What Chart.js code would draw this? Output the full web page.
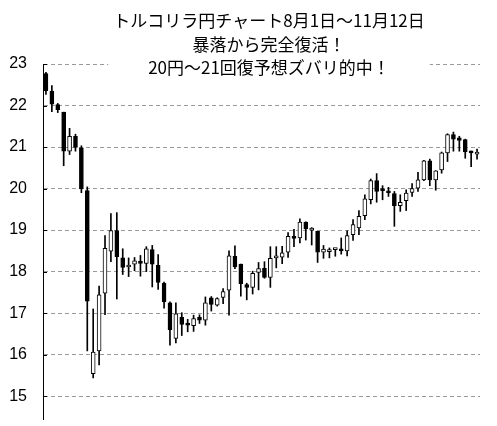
<!DOCTYPE html>
<html lang="ja">
<head>
<meta charset="utf-8">
<title>トルコリラ円チャート</title>
<script src="https://cdn.jsdelivr.net/npm/chart.js@4.4.1/dist/chart.umd.min.js"></script>
<style>
  html, body { margin: 0; padding: 0; background: #fff; }
</style>
</head>
<body>
<canvas id="wykres" width="497" height="426"></canvas>
<script>
// Dni notowań (8/1 - 11/12)
const dates = [
  "8/1", "8/2", "8/3", "8/6", "8/7", "8/8", "8/9", "8/10", "8/13", "8/14",
  "8/15", "8/16", "8/17", "8/20", "8/21", "8/22", "8/23", "8/24", "8/27", "8/28",
  "8/29", "8/30", "8/31", "9/3", "9/4", "9/5", "9/6", "9/7", "9/10", "9/11",
  "9/12", "9/13", "9/14", "9/17", "9/18", "9/19", "9/20", "9/21", "9/24", "9/25",
  "9/26", "9/27", "9/28", "10/1", "10/2", "10/3", "10/4", "10/5", "10/8", "10/9",
  "10/10", "10/11", "10/12", "10/15", "10/16", "10/17", "10/18", "10/19", "10/22", "10/23",
  "10/24", "10/25", "10/26", "10/29", "10/30", "10/31", "11/1", "11/2", "11/5", "11/6",
  "11/7", "11/8", "11/9", "11/12"
];

const opens = [
  22.77, 22.35, 22.02, 21.84, 20.90, 21.26, 20.98, 19.95, 15.54, 16.09,
  17.48, 18.49, 18.99, 18.33, 18.11, 18.18, 18.24, 18.20, 18.53, 18.15,
  17.72, 17.25, 16.39, 16.90, 16.73, 16.70, 16.90, 16.83, 17.37, 17.19,
  17.38, 17.55, 18.37, 18.18, 17.69, 17.62, 17.98, 18.08, 17.86, 18.33,
  18.35, 18.47, 18.85, 18.81, 19.19, 19.00, 18.97, 18.47, 18.48, 18.53,
  18.51, 18.50, 18.89, 19.05, 19.35, 19.73, 20.19, 19.97, 19.92, 19.88,
  19.59, 19.71, 19.91, 20.01, 20.21, 20.67, 20.21, 20.45, 20.86, 21.30,
  21.22, 21.18, 20.87, 20.83
];

const highs = [
  22.80, 22.48, 22.05, 21.84, 21.45, 21.31, 21.03, 20.04, 17.10, 17.65,
  18.87, 19.40, 19.42, 18.55, 18.33, 18.34, 18.39, 18.60, 18.63, 18.41,
  17.75, 17.27, 17.25, 17.01, 16.85, 16.95, 16.96, 17.39, 17.40, 17.37,
  17.59, 18.50, 18.62, 18.18, 17.72, 18.01, 18.22, 18.24, 18.60, 18.60,
  18.61, 18.94, 19.02, 19.27, 19.20, 19.06, 18.97, 18.63, 18.57, 18.55,
  18.81, 18.98, 19.25, 19.47, 19.85, 20.23, 20.36, 20.07, 20.03, 19.93,
  19.85, 19.97, 20.12, 20.39, 20.68, 20.71, 20.43, 20.88, 21.32, 21.36,
  21.26, 21.19, 20.90, 20.95
];

const lows = [
  22.27, 21.85, 21.83, 20.55, 20.82, 20.90, 19.90, 16.09, 15.44, 15.75,
  16.96, 18.24, 17.34, 17.93, 17.88, 18.02, 17.89, 18.00, 17.63, 17.57,
  17.12, 16.23, 16.28, 16.46, 16.55, 16.56, 16.75, 16.71, 17.05, 17.17,
  17.23, 16.95, 18.07, 17.41, 17.32, 17.46, 17.56, 17.84, 17.62, 18.09,
  18.19, 18.34, 18.60, 18.69, 18.76, 18.64, 18.22, 18.32, 18.33, 18.37,
  18.42, 18.38, 18.75, 18.89, 19.25, 19.63, 19.67, 19.73, 19.81, 19.09,
  19.45, 19.47, 19.81, 19.93, 20.19, 20.07, 19.96, 20.37, 20.65, 20.90,
  20.90, 20.73, 20.53, 20.71
];

const closes = [
  22.36, 22.03, 21.90, 20.90, 21.26, 20.99, 19.99, 17.29, 16.06, 17.44,
  18.56, 18.99, 18.36, 18.10, 18.16, 18.26, 18.20, 18.55, 18.18, 17.74,
  17.27, 16.60, 16.98, 16.73, 16.71, 16.87, 16.83, 17.25, 17.21, 17.35,
  17.52, 18.38, 18.11, 17.71, 17.62, 17.96, 18.07, 17.86, 18.32, 18.34,
  18.45, 18.85, 18.80, 19.19, 19.03, 19.01, 18.47, 18.54, 18.53, 18.54,
  18.50, 18.87, 19.13, 19.33, 19.75, 20.19, 19.93, 19.95, 19.90, 19.59,
  19.67, 19.89, 20.00, 20.21, 20.67, 20.21, 20.43, 20.86, 21.30, 21.19,
  21.16, 20.88, 20.86, 20.84
];

const yTicks = [15, 16, 17, 18, 19, 20, 21, 22, 23];

const titleLines = [
  "トルコリラ円チャート8月1日～11月12日",
  "暴落から完全復活！",
  "20円～21回復予想ズバリ的中！"
];

/**
 * Tytuł w białej ramce nałożonej na górę wykresu.
 */
const tytulPlugin = {
  id: "tytul",
  afterDraw(chart) {
    const ctx = chart.ctx;
    const cx = 269;
    ctx.save();
    ctx.font = '17px "Noto Sans CJK JP"';
    let maxW = 0;
    titleLines.forEach((t) => {
      maxW = Math.max(maxW, ctx.measureText(t).width);
    });
    ctx.fillStyle = "#fff";
    ctx.fillRect(cx - maxW / 2 - 5, 0, maxW + 10, 78);
    ctx.fillStyle = "#000";
    ctx.textAlign = "center";
    ctx.textBaseline = "middle";
    titleLines.forEach((t, i) => {
      ctx.fillText(t, cx, 21 + i * 23.5);
    });
    ctx.restore();
  },
};

/**
 * Krótkie kreski podziałki po wewnętrznej stronie osi Y.
 */
const kreskiPlugin = {
  id: "kreski",
  afterDraw(chart) {
    const ctx = chart.ctx;
    const y = chart.scales.y;
    const left = chart.chartArea.left;
    ctx.save();
    ctx.strokeStyle = "#000";
    ctx.lineWidth = 1;
    ctx.beginPath();
    yTicks.forEach((v) => {
      const py = Math.round(y.getPixelForValue(v)) + 0.5;
      ctx.moveTo(left, py);
      ctx.lineTo(left + 4, py);
    });
    ctx.stroke();
    ctx.restore();
  },
};

function renderWykresSwiecowy(canvasId) {
  const ctx = document.getElementById(canvasId);
  if (!ctx) return;

  new Chart(ctx, {
    type: "bar",
    data: {
      labels: dates,
      datasets: [
        {
          label: "body",
          data: opens.map((o, i) => [o, closes[i]]),
          backgroundColor: opens.map((o, i) => (closes[i] >= o ? "#fff" : "#000")),
          borderColor: "#000",
          borderWidth: 1,
          borderSkipped: false,
          barThickness: 4,
          minBarLength: 2,
          grouped: false,
          order: 1,
        },
        {
          label: "wick",
          data: lows.map((l, i) => [l, highs[i]]),
          backgroundColor: "#000",
          borderWidth: 0,
          barThickness: 1,
          grouped: false,
          order: 2,
        },
      ],
    },
    options: {
      responsive: false,
      animation: false,
      layout: {
        padding: { top: 64, right: 17, bottom: 7, left: 0 },
      },
      plugins: {
        legend: { display: false },
        tooltip: { enabled: false },
        title: { display: false },
      },
      scales: {
        x: {
          display: false,
          offset: true,
        },
        y: {
          min: 14.45,
          max: 23,
          afterBuildTicks: (scale) => {
            scale.ticks = yTicks.map((v) => ({ value: v }));
          },
          afterFit: (scale) => {
            // stała szerokość osi i bez dodatkowego marginesu od etykiet
            scale.width = 43;
            scale.paddingTop = 0;
            scale.paddingBottom = 0;
          },
          ticks: {
            padding: 16,
            color: "#000",
            font: { family: "Liberation Sans", size: 16 },
          },
          grid: {
            color: "#9a9a9a",
            drawTicks: false,
          },
          border: {
            color: "#000",
            width: 1,
            dash: [4, 3],
          },
        },
      },
    },
    plugins: [tytulPlugin, kreskiPlugin],
  });
}

document.addEventListener("DOMContentLoaded", () => {
  renderWykresSwiecowy("wykres");
});
</script>
</body>
</html>
